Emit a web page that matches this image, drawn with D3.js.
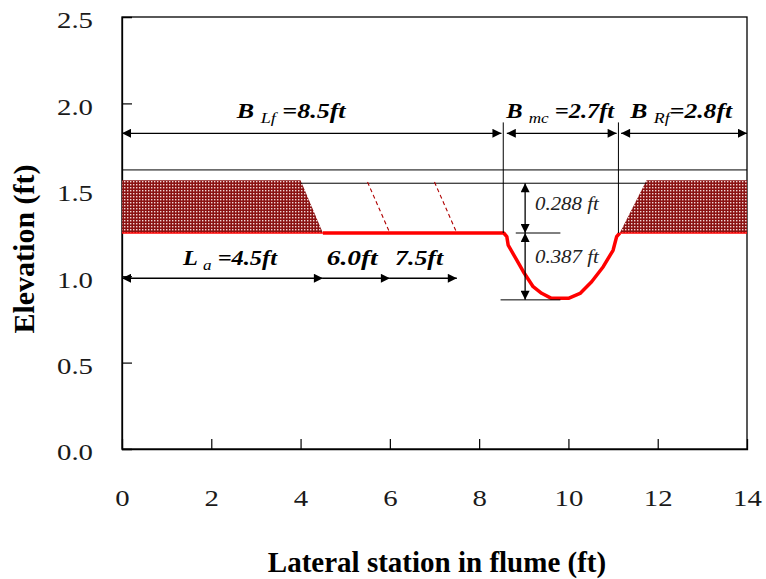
<!DOCTYPE html>
<html>
<head>
<meta charset="utf-8">
<script src="https://cdn.jsdelivr.net/npm/d3@7/dist/d3.min.js"></script>
<style>
  html, body { margin: 0; padding: 0; background: #fff; }
  svg { display: block; }
</style>
</head>
<body>
<svg id="chart" width="766" height="579"></svg>
<script>
// Axis ticks
const xTicks = [0, 2, 4, 6, 8, 10, 12, 14];
const yTicks = [0.0, 0.5, 1.0, 1.5, 2.0, 2.5];

// Compound channel cross-section (station ft, elevation ft)
const floodplainZ = 1.25;
const bankTopZ = 1.538;      // floodplain + 0.288 ft
const waterZ = 1.615;
const channelBedZ = 0.863;   // floodplain - 0.387 ft

const bedStation = [4.5, 8.55, 8.62, 8.65, 8.84, 8.99, 9.21, 9.40, 9.62, 10.0, 10.26, 10.52, 10.78, 11.0, 11.08, 11.15];
const bedElev    = [1.25, 1.25, 1.229, 1.18, 1.094, 1.026, 0.939, 0.901, 0.872, 0.872, 0.90, 0.968, 1.055, 1.15, 1.229, 1.25];

// Rough floodplain blocks (hatched)
const leftBlock  = [[0, 1.25], [0, 1.555], [4.0, 1.555], [4.5, 1.25]];
const rightBlock = [[11.15, 1.25], [11.75, 1.555], [14, 1.555], [14, 1.25]];

// Alternate roughness edges (dashed)
const altEdges = [
  [[5.5, 1.545], [6.0, 1.25]],
  [[7.0, 1.545], [7.5, 1.25]]
];

// Width dimensions
const widthSpans = [[0, 8.5], [8.62, 11.08], [11.18, 14]];
const widthSubs = ["Lf", "mc", "Rf"];
const widthValues = [" =8.5ft", " =2.7ft", "=2.8ft"];
const roughStations = [0, 4.5, 6.0, 7.5];
const roughValues = ["=4.5ft", "6.0ft", "7.5ft"];
const depthValues = ["0.288 ft", "0.387 ft"];

const svg = d3.select("#chart");
const margin = { left: 122, top: 17, right: 19, bottom: 130 };
const W = 766, H = 579;
const x = d3.scaleLinear().domain([0, 14]).range([margin.left, W - margin.right]);
const y = d3.scaleLinear().domain([0, 2.5]).range([H - margin.bottom, margin.top]);

const serif = "'Liberation Serif', 'Times New Roman', serif";

// stretch a text element horizontally so it spans the given width from its left edge
function fitWidth(sel, width) {
  const b = sel.node().getBBox();
  const k = width / b.width;
  sel.attr("transform", `translate(${b.x},0) scale(${k},1) translate(${-b.x},0)`);
}

// hatch pattern
const defs = svg.append("defs");
const pat = defs.append("pattern").attr("id", "dots")
  .attr("patternUnits", "userSpaceOnUse").attr("width", 3).attr("height", 3);
pat.append("rect").attr("width", 3).attr("height", 3).attr("fill", "#8a1212");
pat.append("rect").attr("x", 1).attr("y", 1).attr("width", 1.4).attr("height", 1.4).attr("fill", "#f2d6d6");

defs.append("marker").attr("id", "arrow")
  .attr("viewBox", "0 0 10 10").attr("refX", 10).attr("refY", 5)
  .attr("markerWidth", 12).attr("markerHeight", 9).attr("markerUnits", "userSpaceOnUse")
  .attr("orient", "auto-start-reverse")
  .append("path").attr("d", "M0,0 L10,5 L0,10 Z").attr("fill", "#000");

const line = d3.line().x(d => x(d[0])).y(d => y(d[1]));

// frame
svg.append("rect")
  .attr("x", x(0)).attr("y", y(2.5))
  .attr("width", x(14) - x(0)).attr("height", y(0) - y(2.5))
  .attr("fill", "none").attr("stroke", "#000").attr("stroke-width", 1.3);

// axes
const xAxis = d3.axisBottom(x).tickValues(xTicks).tickSize(-10).tickPadding(40)
  .tickFormat(d3.format("d"));
const gx = svg.append("g").attr("transform", `translate(0,${y(0)})`).call(xAxis);
const yAxis = d3.axisLeft(y).tickValues(yTicks).tickSize(-10).tickPadding(29)
  .tickFormat(d3.format(".1f"));
const gy = svg.append("g").attr("transform", `translate(${x(0)},0)`).call(yAxis);
[gx, gy].forEach(g => {
  g.select(".domain").attr("stroke", "#000").attr("stroke-width", 1.3);
  g.selectAll(".tick line").attr("stroke", "#000").attr("stroke-width", 1.2);
  g.selectAll("text").attr("font-family", serif).attr("font-size", 24).attr("fill", "#1a1a1a");
});
gx.selectAll(".tick text").attr("transform", "scale(1.2,1)");
gy.selectAll(".tick text").attr("x", -29 / 1.2).attr("dy", "0.45em").attr("transform", "scale(1.2,1)");
gx.selectAll(".tick").filter(d => d === 0 || d === 14).select("line").remove();
gy.selectAll(".tick").filter(d => d === 0 || d === 2.5).select("line").remove();

// hatched blocks
[leftBlock, rightBlock].forEach(b => {
  svg.append("path").attr("d", line(b) + "Z").attr("fill", "url(#dots)").attr("stroke", "none");
});

// water surface and bank top lines
svg.append("line").attr("x1", x(0)).attr("x2", x(14)).attr("y1", y(waterZ)).attr("y2", y(waterZ))
  .attr("stroke", "#000").attr("stroke-width", 1);
svg.append("line").attr("x1", x(4.0)).attr("x2", x(11.75)).attr("y1", y(bankTopZ)).attr("y2", y(bankTopZ))
  .attr("stroke", "#000").attr("stroke-width", 1);

// dashed alternate edges
altEdges.forEach(e => {
  svg.append("path").attr("d", line(e)).attr("fill", "none")
    .attr("stroke", "#b00000").attr("stroke-width", 1.1).attr("stroke-dasharray", "4,3");
});

// thin floodplain floor lines under blocks
svg.append("path").attr("d", line([[0, floodplainZ], [4.5, floodplainZ]]))
  .attr("stroke", "#ff0000").attr("stroke-width", 1.5).attr("fill", "none");
svg.append("path").attr("d", line([[11.15, floodplainZ], [14, floodplainZ]]))
  .attr("stroke", "#ff0000").attr("stroke-width", 1.5).attr("fill", "none");

// channel bed
const bed = bedStation.map((s, i) => [s, bedElev[i]]);
svg.append("path").attr("d", line(bed)).attr("fill", "none")
  .attr("stroke", "#ff0000").attr("stroke-width", 3.5).attr("stroke-linejoin", "round");

// main channel walls (vertical reference lines)
[8.54, 11.12].forEach(s => {
  svg.append("line").attr("x1", x(s)).attr("x2", x(s)).attr("y1", y(1.89)).attr("y2", y(floodplainZ))
    .attr("stroke", "#000").attr("stroke-width", 1);
});

// width dimension arrows
const dimY = 1.827;
widthSpans.forEach(d => {
  svg.append("line").attr("x1", x(d[0])).attr("x2", x(d[1])).attr("y1", y(dimY)).attr("y2", y(dimY))
    .attr("stroke", "#000").attr("stroke-width", 1.3)
    .attr("marker-start", "url(#arrow)").attr("marker-end", "url(#arrow)");
});

function subLabel(px, py, main, sub, rest, width) {
  const t = svg.append("text").attr("x", px).attr("y", py)
    .attr("font-family", serif).attr("font-size", 20).attr("font-style", "italic").attr("font-weight", "bold");
  t.append("tspan").text(main + " ");
  t.append("tspan").attr("font-size", 14).attr("font-weight", "normal").attr("dy", 5).text(sub);
  t.append("tspan").attr("dy", -5).text(rest);
  fitWidth(t, width);
}
const labelBase = 118;
const labelLeft = [236.5, 506, 630];
const labelWidth = [112, 111, 105];
widthSubs.forEach((s, i) => subLabel(labelLeft[i], labelBase, "B", s, widthValues[i], labelWidth[i]));

// roughness length arrows
const rY = 0.988;
svg.append("line").attr("x1", x(roughStations[0])).attr("x2", x(roughStations[1]))
  .attr("y1", y(rY)).attr("y2", y(rY)).attr("stroke", "#000").attr("stroke-width", 1.3)
  .attr("marker-start", "url(#arrow)").attr("marker-end", "url(#arrow)");
for (let i = 1; i < roughStations.length - 1; i++) {
  svg.append("line").attr("x1", x(roughStations[i])).attr("x2", x(roughStations[i + 1]))
    .attr("y1", y(rY)).attr("y2", y(rY)).attr("stroke", "#000").attr("stroke-width", 1.3)
    .attr("marker-end", "url(#arrow)");
}
const laBase = 265;
subLabel(182.7, laBase, "L", "a", " " + roughValues[0], 97);
[{ left: 326.7, w: 53 }, { left: 395, w: 50 }].forEach((d, i) => {
  const t = svg.append("text").attr("x", d.left).attr("y", laBase)
    .attr("font-family", serif).attr("font-size", 20).attr("font-style", "italic").attr("font-weight", "bold")
    .text(roughValues[i + 1]);
  fitWidth(t, d.w);
});

// depth dimensions
const depX = 9.03;
svg.append("line").attr("x1", x(depX)).attr("x2", x(depX)).attr("y1", y(bankTopZ)).attr("y2", y(floodplainZ))
  .attr("stroke", "#000").attr("stroke-width", 1.3)
  .attr("marker-start", "url(#arrow)").attr("marker-end", "url(#arrow)");
svg.append("line").attr("x1", x(depX)).attr("x2", x(depX)).attr("y1", y(floodplainZ)).attr("y2", y(channelBedZ))
  .attr("stroke", "#000").attr("stroke-width", 1.3)
  .attr("marker-start", "url(#arrow)").attr("marker-end", "url(#arrow)");
svg.append("line").attr("x1", x(8.82)).attr("x2", x(9.82)).attr("y1", y(floodplainZ)).attr("y2", y(floodplainZ))
  .attr("stroke", "#000").attr("stroke-width", 1);
svg.append("line").attr("x1", x(8.48)).attr("x2", x(9.82)).attr("y1", y(channelBedZ)).attr("y2", y(channelBedZ))
  .attr("stroke", "#000").attr("stroke-width", 1);
[210, 263].forEach((base, i) => {
  const t = svg.append("text").attr("x", 535).attr("y", base)
    .attr("font-family", serif).attr("font-size", 18).attr("font-style", "italic").attr("fill", "#222")
    .text(depthValues[i]);
  fitWidth(t, 65);
});

// axis titles
svg.append("text").attr("x", 437).attr("y", 572).attr("text-anchor", "middle")
  .attr("font-family", serif).attr("font-size", 29).attr("font-weight", "bold")
  .text("Lateral station in flume (ft)");
svg.append("text").attr("transform", `translate(34,249) rotate(-90)`)
  .attr("text-anchor", "middle")
  .attr("font-family", serif).attr("font-size", 30).attr("font-weight", "bold")
  .text("Elevation (ft)");
</script>
</body>
</html>
